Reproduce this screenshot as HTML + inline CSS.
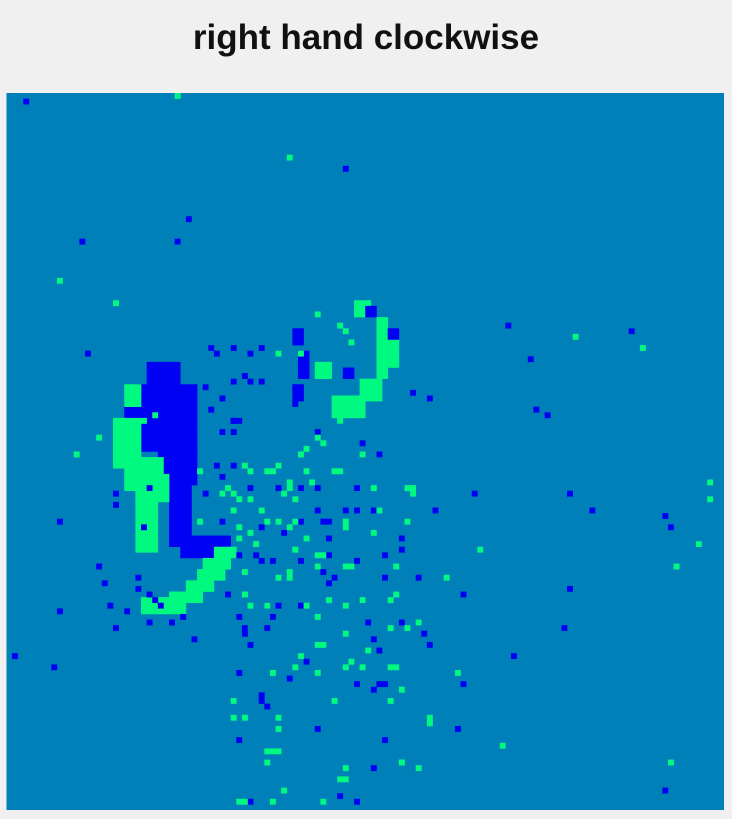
<!DOCTYPE html>
<html><head><meta charset="utf-8"><style>
html,body{margin:0;padding:0;background:#f0f0f0;width:732px;height:819px;overflow:hidden;font-family:"Liberation Sans",sans-serif}
#title{position:absolute;left:0;width:732px;top:18px;text-align:center;font-weight:bold;font-size:35px;color:#111}
svg{position:absolute;left:0;top:0}
</style></head><body>
<div id="title">right hand clockwise</div>
<svg id="chart" width="732" height="819">
<rect x="6.5" y="93" width="717.5" height="717" fill="#0080b8"/>
</svg>
<script>
// grid 128x128; class 1 = blue (negative), 2 = green (positive)
const gridSize = 128;
// rectangular blobs [col0,row0,col1,row1,class]
const blobs = [
 [25,48,30,52,1],[23,52,33,63,1],[21,55,23,60,1],[27,63,33,69,1],[29,69,32,80,1],[31,79,39,82,1],
 [21,52,23,55,2],[19,58,23,66,2],[21,65,27,70,2],[23,68,28,72,2],[23,71,26,81,2],
 [37,81,40,82,2],[35,83,39,84,2],[34,85,38,86,2],[32,87,36,88,2],[29,89,34,90,2],[24,90,31,92,2],
 [62,37,64,39,2],[66,40,67,50,2],[68,44,69,48,2],[58,54,63,57,2],[63,51,66,54,2],[55,48,57,50,2],
 [51,42,52,44,1],[52,46,53,50,1],[51,52,52,54,1],[64,38,65,39,1],[68,42,69,43,1],[60,49,61,50,1]
];
// scattered single events
const blueCols = [3,60,32,13,30,89,111,93,14,94,96,75,83,100,104,117,118,123,9,16,17,9,1,8,81,100,99,90,81,80,117,37,43,42,51,52,72,76,42,43,47,52,57,62,70,66,45,59,70,75,36,40,33,19,21,55,63,45,25,39,66,
 40,36,45,40,43,45,35,38,51,40,41,38,40,37,40,38,35,43,48,52,55,62,62,60,65,55,38,52,56,57,49,57,57,67,70,41,44,47,52,45,58,73,67,56,46,48,41,42,46,53,41,50,62,65,67,74,64,66,65,45,46,41,67,55,65,43,62,
 19,19,24,23,23,25,26,27,18,31,29,25];
const blueRows = [1,13,22,26,26,41,42,47,46,56,57,54,71,71,74,75,77,80,76,84,87,92,100,102,89,88,95,100,105,113,124,46,46,50,52,48,53,74,96,98,93,91,87,83,81,105,108,125,94,98,56,58,97,95,92,60,62,77,70,89,64,
 45,45,45,51,51,51,52,54,55,58,58,60,60,66,66,68,71,70,70,70,70,70,74,74,74,74,76,76,76,76,78,79,82,82,79,82,82,83,83,83,86,86,86,85,91,91,93,95,95,101,103,104,105,106,105,96,94,99,97,107,109,115,115,113,120,126,126,
 71,73,77,86,88,89,90,91,91,93,94,94];
const greenCols = [30,50,9,19,101,113,125,125,123,119,118,16,12,40,42,46,50,56,60,66,72,61,68,56,47,42,47,60,70,75,42,50,47,58,80,88,52,63,69,43,34,44,55,65,73,78,84,40,48,58,
 48,52,57,55,59,60,61,59,55,56,53,52,63,48,42,43,46,53,54,59,34,39,38,40,41,43,49,50,51,45,41,46,48,50,60,65,71,72,71,51,41,53,55,51,61,60,69,48,50,42,42,43,53,55,60,57,68,68,71,60,55,64,60,63,69,47,55,51,70,68,48,40,46,48,46,70,60,59,49,56,41,73,75,26,24];
const greenRows = [0,11,33,37,43,45,69,72,80,84,119,61,64,74,89,91,86,82,76,74,71,101,102,98,117,126,126,122,119,112,111,69,67,67,103,116,100,90,89,78,76,80,84,78,94,86,81,108,113,108,
 46,46,49,39,41,42,44,58,61,62,63,64,64,66,66,67,67,67,69,67,67,70,71,71,72,72,71,70,72,74,77,76,76,77,77,70,70,70,76,76,79,79,82,81,84,84,84,86,85,85,89,91,91,93,91,90,90,95,95,96,98,99,102,102,102,103,103,102,106,108,111,111,117,117,119,119,120,122,124,126,126,120,111,57,58];
const colors = {0:'#0080b8',1:'#0000f5',2:'#00fa80'};
const x0 = 6.5, y0 = 93, cw = 717.5/gridSize, ch = 717/gridSize;
const xs = c => x0 + c*cw, ys = r => y0 + r*ch;
const svg = document.getElementById('chart');
const NS = 'http://www.w3.org/2000/svg';
function cell(c, r, k, nm){
  const el = document.createElementNS(NS,'rect');
  el.setAttribute('x', xs(c)); el.setAttribute('y', ys(r));
  el.setAttribute('width', cw+0.3); el.setAttribute('height', ch+0.3);
  el.setAttribute('fill', colors[k]);
  
  
  svg.appendChild(el);
}
blobs.forEach(b => { for(let c=b[0];c<=b[2];c++) for(let r=b[1];r<=b[3];r++) cell(c,r,b[4], b[4]===1?'negative-event-cell':'positive-event-cell'); });
blueCols.forEach((c,i) => cell(c, blueRows[i], 1, 'negative-event-cell'));
greenCols.forEach((c,i) => cell(c, greenRows[i], 2, 'positive-event-cell'));
</script>
</body></html>
